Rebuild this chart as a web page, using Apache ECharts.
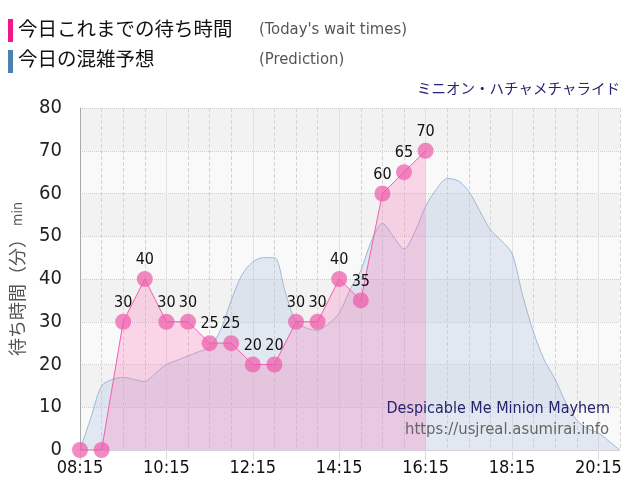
<!DOCTYPE html>
<html>
<head>
<meta charset="utf-8">
<script src="https://cdn.jsdelivr.net/npm/echarts@6/dist/echarts.min.js"></script>
<style>
  html, body { margin: 0; padding: 0; background: #fff; }
  #chart { width: 640px; height: 500px; }
</style>
</head>
<body>
<div id="chart"></div>
<script>
// 15分刻みの時刻（予想の横軸）
const times = [
  '08:15', '08:30', '08:45', '09:00', '09:15', '09:30', '09:45', '10:00',
  '10:15', '10:30', '10:45', '11:00', '11:15', '11:30', '11:45', '12:00',
  '12:15', '12:30', '12:45', '13:00', '13:15', '13:30', '13:45', '14:00',
  '14:15', '14:30', '14:45', '15:00', '15:15', '15:30', '15:45', '16:00',
  '16:15', '16:30', '16:45', '17:00', '17:15', '17:30', '17:45', '18:00',
  '18:15', '18:30', '18:45', '19:00', '19:15', '19:30', '19:45', '20:00',
  '20:15', '20:30', '20:45'
]

// 今日の混雑予想
const predict = [
  0, 7.5, 15, 16.5, 17, 16.5, 16, 18,
  20, 21, 22, 23, 24, 28, 35, 41,
  44, 45, 45, 37, 30, 28.5, 28, 29.5,
  32, 37.5, 42, 49, 53, 50, 47, 51,
  57, 61, 63.5, 63, 60.5, 56, 51.5, 49,
  46, 36, 27.5, 21, 16.5, 11, 7, 5,
  4, 2, 0
]

// 今日これまでの待ち時間（30分ごと）
const waitTimes = [
  '08:15', '08:45', '09:15', '09:45', '10:15', '10:45', '11:15', '11:45',
  '12:15', '12:45', '13:15', '13:45', '14:15', '14:45', '15:15', '15:45', '16:15'
]
const waitValues = [0, 0, 30, 40, 30, 30, 25, 25, 20, 20, 30, 30, 40, 35, 60, 65, 70]

const font = "'DejaVu Sans Condensed', 'DejaVu Sans', 'Noto Sans CJK JP', sans-serif"
const jpFont = "'Noto Sans CJK JP', sans-serif"

const myChart = echarts.init(document.getElementById('chart'))

myChart.setOption({
  animation: false,
  textStyle: { fontFamily: font },
  grid: { left: 80, right: 20, top: 108, bottom: 50, outerBoundsMode: 'none', containLabel: false },
  xAxis: [
    {
      type: 'category',
      data: times,
      boundaryGap: false,
      axisLine: { lineStyle: { color: '#c8c8c8', type: 'dotted' } },
      axisTick: { show: false },
      axisLabel: {
        interval: (i) => i % 8 === 0,
        fontSize: 18,
        color: '#111',
        margin: 9
      },
      splitLine: {
        show: true,
        interval: (i) => i % 2 === 0 && i % 8 !== 0,
        lineStyle: { color: '#d6d6d6', type: 'dashed' }
      }
    },
    {
      // 2時間ごとの実線
      type: 'category',
      data: times,
      boundaryGap: false,
      position: 'bottom',
      axisLine: { show: false },
      axisLabel: { show: false },
      axisTick: {
        show: true,
        interval: (i) => i % 8 === 0,
        length: 10,
        lineStyle: { color: '#dcdcdc' }
      },
      splitLine: {
        show: true,
        interval: (i) => i % 8 === 0,
        lineStyle: { color: '#e2e2e2', type: 'solid' }
      }
    }
  ],
  yAxis: {
    type: 'value',
    min: 0,
    max: 80,
    interval: 10,
    name: '{a|待ち時間（分）}{b| min}',
    nameLocation: 'middle',
    nameRotate: 90,
    nameGap: 54,
    nameTextStyle: {
      rich: {
        a: { fontFamily: jpFont, fontSize: 18, color: '#555', verticalAlign: 'bottom' },
        b: { fontFamily: font, fontSize: 14, color: '#555', verticalAlign: 'bottom', padding: [0, 0, 1, 0] }
      }
    },
    axisLine: { show: true, lineStyle: { color: '#aaa' } },
    axisTick: { show: false },
    axisLabel: { fontSize: 20, color: '#222', margin: 18 },
    splitLine: { lineStyle: { color: '#cfcfcf', type: 'dotted' } },
    splitArea: { show: true, areaStyle: { color: ['#f9f9f9', '#f2f2f2'] } }
  },
  series: [
    {
      name: '今日の混雑予想',
      type: 'line',
      data: predict,
      smooth: 0.3,
      showSymbol: false,
      lineStyle: { color: 'rgba(150,180,210,0.9)', width: 1 },
      areaStyle: { color: 'rgba(176,196,222,0.45)' },
      z: 2
    },
    {
      name: '今日これまでの待ち時間',
      type: 'line',
      data: waitTimes.map((t, i) => [t, waitValues[i]]),
      symbol: 'circle',
      symbolSize: 16,
      showAllSymbol: true,
      itemStyle: { color: 'rgba(238,90,170,0.7)' },
      lineStyle: { color: '#f060b0', width: 1 },
      areaStyle: { color: 'rgba(255,105,180,0.36)' },
      label: {
        show: true,
        position: 'top',
        distance: 3,
        fontSize: 16,
        color: '#111',
        formatter: (p) => (p.value[1] === 0 ? '' : p.value[1])
      },
      labelLayout: { hideOverlap: false },
      z: 3
    }
  ],
  graphic: [
    // 凡例
    { type: 'rect', left: 8, top: 19, shape: { width: 5, height: 23 }, style: { fill: '#f0168c' } },
    { type: 'text', left: 18, top: 19, style: { text: '今日これまでの待ち時間', font: '19.5px ' + jpFont, fill: '#111' } },
    { type: 'text', left: 259, top: 21, style: { text: "(Today's wait times)", font: '16.5px ' + font, fill: '#555' } },
    { type: 'rect', left: 8, top: 50, shape: { width: 5, height: 23 }, style: { fill: '#4a80b2' } },
    { type: 'text', left: 18, top: 49, style: { text: '今日の混雑予想', font: '19.5px ' + jpFont, fill: '#111' } },
    { type: 'text', left: 259, top: 51, style: { text: '(Prediction)', font: '16.5px ' + font, fill: '#555' } },
    // アトラクション名
    { type: 'text', right: 20, top: 81, style: { text: 'ミニオン・ハチャメチャライド', font: '14.5px ' + jpFont, fill: '#23236e' } },
    // 透かし
    { type: 'text', right: 30, top: 401, z: 100, style: { text: 'Despicable Me Minion Mayhem', font: '16px ' + font, fill: '#23236e' } },
    { type: 'text', right: 31, top: 421, z: 100, style: { text: 'https://usjreal.asumirai.info', font: '16.5px ' + font, fill: '#666' } }
  ]
})
</script>
</body>
</html>
